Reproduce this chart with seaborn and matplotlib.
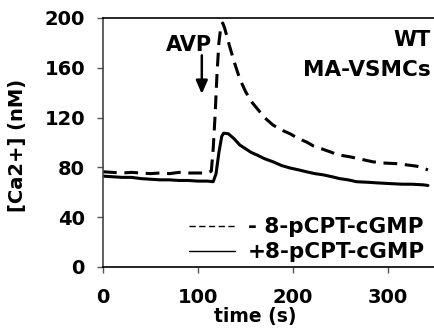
import numpy as np
import pandas as pd
import matplotlib
matplotlib.use("Agg")
import matplotlib.pyplot as plt
import seaborn as sns

# ---- data ----
t_minus = [0, 10, 20, 30, 40, 50, 60, 70, 80, 90, 100, 110, 114, 116, 118, 120, 122, 124,
           126, 128, 133, 138, 144, 150, 156, 162, 170, 179, 188, 197, 206, 214, 222, 230,
           239, 248, 260, 272, 284, 296, 309, 320, 330, 337, 342]
v_minus = [76.5, 76, 75.5, 76, 75.5, 75, 75.5, 75, 76, 75.5, 75.5, 75.5, 77, 95, 122, 155, 180, 193,
           196, 192, 178, 165, 151, 141, 133, 127.5, 120, 114, 110, 107, 103, 100.5, 97, 95,
           92.5, 90, 88.5, 86.5, 84.5, 83.5, 83, 82, 81, 79.5, 78]

t_plus = [0, 10, 20, 30, 40, 50, 60, 70, 80, 90, 100, 110, 116, 119, 122, 125, 127, 132, 138,
          144, 150, 156, 162, 170, 179, 188, 197, 206, 214, 223, 232, 241, 249, 258, 267,
          280, 290, 302, 315, 325, 337, 342]
v_plus = [73, 72.5, 72, 72, 71, 70.5, 70, 70, 69.5, 69.5, 69, 69, 68.5, 75, 92, 105, 107.5, 107, 103,
          98, 95, 92, 90, 87, 84.5, 81.5, 79.5, 78, 76.5, 75, 74, 72.5, 71, 70, 68.5,
          68, 67.5, 67, 66.5, 66.5, 66, 65.5]

labels = ["- 8-pCPT-cGMP", "+8-pCPT-cGMP"]
x_ticks = [0, 100, 200, 300]
y_ticks = [0, 40, 80, 120, 160, 200]

df = pd.concat([
    pd.DataFrame({"time": t_minus, "ca": v_minus, "cond": labels[0]}),
    pd.DataFrame({"time": t_plus, "ca": v_plus, "cond": labels[1]}),
], ignore_index=True)

sns.set_style("ticks")
plt.rcParams["font.family"] = ["DejaVu Sans"]
plt.rcParams["font.weight"] = "bold"
plt.rcParams["text.color"] = "black"
plt.rcParams["axes.labelcolor"] = "black"
plt.rcParams["xtick.color"] = "black"
plt.rcParams["ytick.color"] = "black"

fig = plt.figure(figsize=(4.35, 3.31), dpi=100)
ax = fig.add_axes([103 / 435, 1 - 267 / 331, 332.5 / 435, 249 / 331])

sns.lineplot(data=df, x="time", y="ca", hue="cond", style="cond",
             palette=["black", "black"], dashes={labels[0]: (4.5, 2.5), labels[1]: ""},
             linewidth=2.2, sort=False, estimator=None, ax=ax, legend=True)

ax.set_xlim(0, 350)
ax.set_ylim(0, 200)
ax.set_xticks(x_ticks)
ax.set_yticks(y_ticks)
ax.tick_params(axis="both", labelsize=14, length=4, width=1, color="#555555",
               labelcolor="black")
ax.tick_params(axis="y", pad=9)
ax.tick_params(axis="x", pad=11)
for lab in ax.get_xticklabels() + ax.get_yticklabels():
    lab.set_fontweight("bold")

for s in ["top", "bottom", "left"]:
    ax.spines[s].set_visible(True)
    ax.spines[s].set_linewidth(1.2)
ax.spines["top"].set_color("black")
ax.spines["bottom"].set_color("black")
ax.spines["left"].set_color("#444444")
ax.spines["right"].set_visible(False)

ax.set_xlabel("time (s)", fontsize=13.5, fontweight="bold", color="black")
ax.set_ylabel("[Ca2+] (nM)", fontsize=14, fontweight="bold", color="black")
ax.xaxis.set_label_coords((255 - 103) / 332.5, -(307 - 267) / 249)
ax.yaxis.set_label_coords(-(103 - 27) / 332.5, 0.49)

ax.text(0.985, 0.91, "WT", transform=ax.transAxes, ha="right", va="center",
        fontsize=15, fontweight="bold", color="black")
ax.text(0.985, 0.79, "MA-VSMCs", transform=ax.transAxes, ha="right", va="center",
        fontsize=15.5, fontweight="bold", color="black")

ax.annotate("", xy=(104, 139), xytext=(104, 170),
            arrowprops=dict(arrowstyle="-|>,head_width=0.35,head_length=0.8",
                            color="black", lw=1.8, shrinkA=0, shrinkB=0))
ax.text(90, 178, "AVP", ha="center", va="center", fontsize=15, fontweight="bold",
        color="black")

leg = ax.legend(loc="lower right", bbox_to_anchor=(1.0, -0.025), frameon=False,
                fontsize=15.5, handlelength=2.1, handletextpad=0.6, labelspacing=0.25,
                borderpad=0, title=None)
for txt in leg.get_texts():
    txt.set_fontweight("bold")
    txt.set_color("black")
for ln in leg.get_lines():
    ln.set_linewidth(1.0)

fig.savefig("out.png", dpi=100)
